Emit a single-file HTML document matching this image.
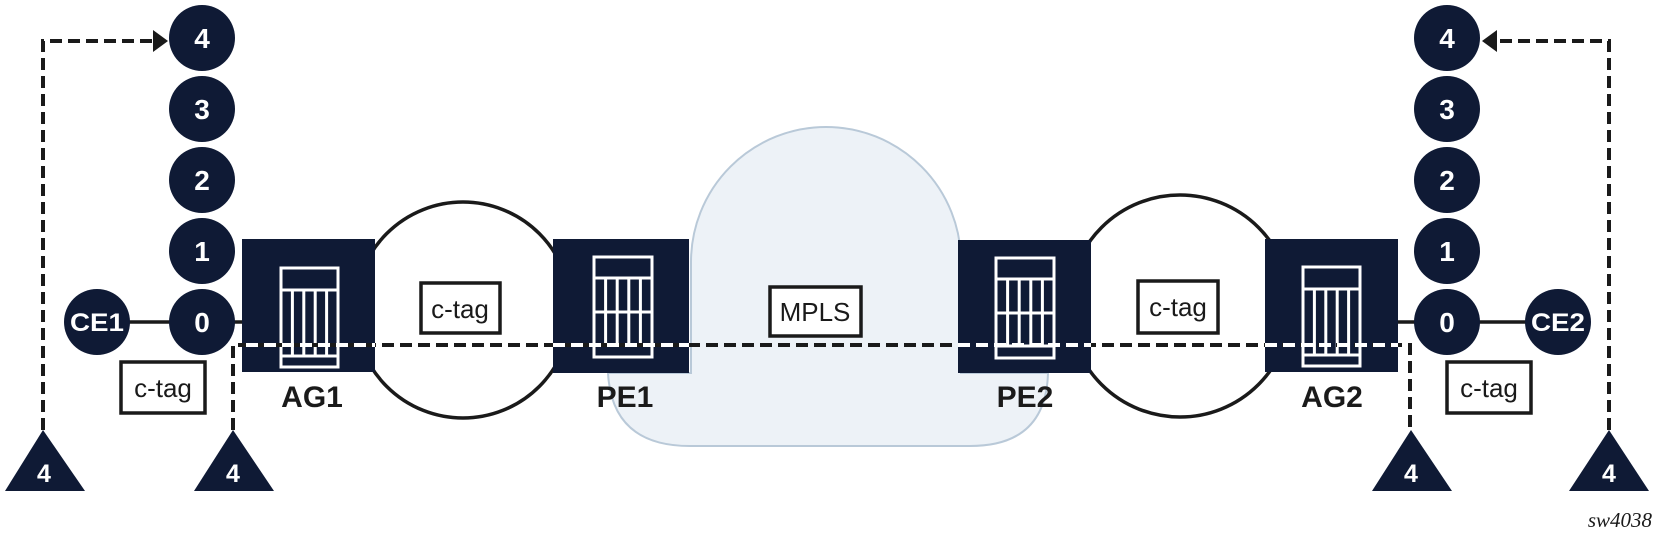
<!DOCTYPE html>
<html><head><meta charset="utf-8"><style>
html,body{margin:0;padding:0;background:#fff;}
svg{display:block;}
</style></head><body>
<svg width="1659" height="542" viewBox="0 0 1659 542" xmlns="http://www.w3.org/2000/svg" font-family="Liberation Sans, Arial, sans-serif">
<defs>
<g id="icon">
  <rect x="0" y="0" width="57" height="99" fill="none" stroke="#fff" stroke-width="3"/>
  <line x1="0" y1="22" x2="57" y2="22" stroke="#fff" stroke-width="3"/>
  <line x1="0" y1="88" x2="57" y2="88" stroke="#fff" stroke-width="3"/>
  <line x1="11.4" y1="22" x2="11.4" y2="88" stroke="#fff" stroke-width="3"/>
  <line x1="22.8" y1="22" x2="22.8" y2="88" stroke="#fff" stroke-width="3"/>
  <line x1="34.2" y1="22" x2="34.2" y2="88" stroke="#fff" stroke-width="3"/>
  <line x1="45.6" y1="22" x2="45.6" y2="88" stroke="#fff" stroke-width="3"/>
</g>
<g id="iconPE">
  <rect x="0" y="0" width="58" height="100" fill="none" stroke="#fff" stroke-width="3"/>
  <line x1="0" y1="21" x2="58" y2="21" stroke="#fff" stroke-width="3"/>
  <line x1="0" y1="55" x2="58" y2="55" stroke="#fff" stroke-width="3"/>
  <line x1="0" y1="88" x2="58" y2="88" stroke="#fff" stroke-width="3"/>
  <line x1="11.6" y1="21" x2="11.6" y2="88" stroke="#fff" stroke-width="3"/>
  <line x1="23.2" y1="21" x2="23.2" y2="88" stroke="#fff" stroke-width="3"/>
  <line x1="34.8" y1="21" x2="34.8" y2="88" stroke="#fff" stroke-width="3"/>
  <line x1="46.4" y1="21" x2="46.4" y2="88" stroke="#fff" stroke-width="3"/>
</g>
</defs>

<path d="M691 262 A135 135 0 0 1 961 262 L961 373 L1048 373 Q1046 446 970 446 L690 446 Q612 446 608 373 L691 373 Z" fill="#edf2f7" stroke="#b9c9d8" stroke-width="2"/>

<circle cx="463" cy="310" r="108" fill="none" stroke="#1a1a1a" stroke-width="3.5"/>
<circle cx="1180" cy="306" r="111" fill="none" stroke="#1a1a1a" stroke-width="3.5"/>

<line x1="97" y1="322" x2="246" y2="322" stroke="#1a1a1a" stroke-width="3.5"/>
<line x1="1395" y1="322" x2="1558" y2="322" stroke="#1a1a1a" stroke-width="3.5"/>

<rect x="242" y="239" width="133" height="133" fill="#0f1a35"/>
<rect x="553" y="239" width="136" height="134" fill="#0f1a35"/>
<rect x="958" y="240" width="133" height="133" fill="#0f1a35"/>
<rect x="1265" y="239" width="133" height="133" fill="#0f1a35"/>

<use href="#icon" x="281" y="268"/>
<use href="#iconPE" x="594" y="257"/>
<use href="#iconPE" x="996" y="258"/>
<use href="#icon" x="1303" y="267"/>

<g font-weight="bold" font-size="30" fill="#1a1a1a" text-anchor="middle">
<text x="312" y="407">AG1</text>
<text x="625" y="407">PE1</text>
<text x="1025" y="407">PE2</text>
<text x="1332" y="407">AG2</text>
</g>

<g fill="#fff" stroke="#1a1a1a" stroke-width="3.5">
<rect x="121" y="362" width="84" height="51"/>
<rect x="421" y="283" width="79" height="50"/>
<rect x="770" y="287" width="91" height="49"/>
<rect x="1138" y="281" width="80" height="52"/>
<rect x="1447" y="362" width="84" height="51"/>
</g>
<g font-size="26" fill="#1a1a1a" text-anchor="middle">
<text x="163" y="397">c-tag</text>
<text x="460" y="318">c-tag</text>
<text x="815" y="321">MPLS</text>
<text x="1178" y="316">c-tag</text>
<text x="1489" y="397">c-tag</text>
</g>

<g fill="#0f1a35">
<circle cx="202" cy="38" r="33"/><circle cx="202" cy="109" r="33"/><circle cx="202" cy="180" r="33"/><circle cx="202" cy="251" r="33"/><circle cx="202" cy="322" r="33"/>
<circle cx="97" cy="322" r="33"/>
<circle cx="1447" cy="38" r="33"/><circle cx="1447" cy="109" r="33"/><circle cx="1447" cy="180" r="33"/><circle cx="1447" cy="251" r="33"/><circle cx="1447" cy="322" r="33"/>
<circle cx="1558" cy="322" r="33"/>
</g>
<g fill="#fff" font-weight="bold" font-size="28" text-anchor="middle">
<text x="202" y="48">4</text><text x="202" y="119">3</text><text x="202" y="190">2</text><text x="202" y="261">1</text><text x="202" y="332">0</text>
<text x="1447" y="48">4</text><text x="1447" y="119">3</text><text x="1447" y="190">2</text><text x="1447" y="261">1</text><text x="1447" y="332">0</text>
<text x="97" y="331" font-size="25" textLength="54" lengthAdjust="spacingAndGlyphs">CE1</text>
<text x="1558" y="331" font-size="25" textLength="54" lengthAdjust="spacingAndGlyphs">CE2</text>
</g>

<g fill="none" stroke="#1a1a1a" stroke-width="4" stroke-dasharray="12 6">
<path d="M43 430 L43 41 L158 41"/>
<path d="M1609 430 L1609 41 L1494 41"/>
<path d="M233 430 L233 345 L1410 345 L1410 430"/>
</g>
<polygon points="168,41 153,30 153,52" fill="#1a1a1a"/>
<polygon points="1482,41 1497,30 1497,52" fill="#1a1a1a"/>
<g stroke="#fff" stroke-width="4" stroke-dasharray="12 6">
<line x1="246" y1="345" x2="375" y2="345"/>
<line x1="553" y1="345" x2="689" y2="345"/>
<line x1="958" y1="345" x2="1091" y2="345"/>
<line x1="1265" y1="345" x2="1398" y2="345"/>
</g>

<g fill="#0f1a35">
<polygon points="43,430 5,491 85,491"/>
<polygon points="233,430 194,491 274,491"/>
<polygon points="1411,430 1372,491 1452,491"/>
<polygon points="1609,430 1569,491 1649,491"/>
</g>
<g fill="#fff" font-weight="bold" font-size="25" text-anchor="middle">
<text x="44" y="482">4</text><text x="233" y="482">4</text><text x="1411" y="482">4</text><text x="1609" y="482">4</text>
</g>

<text x="1652" y="527" text-anchor="end" font-family="Liberation Serif, serif" font-style="italic" font-size="21" fill="#1a1a1a">sw4038</text>
</svg>
</body></html>
